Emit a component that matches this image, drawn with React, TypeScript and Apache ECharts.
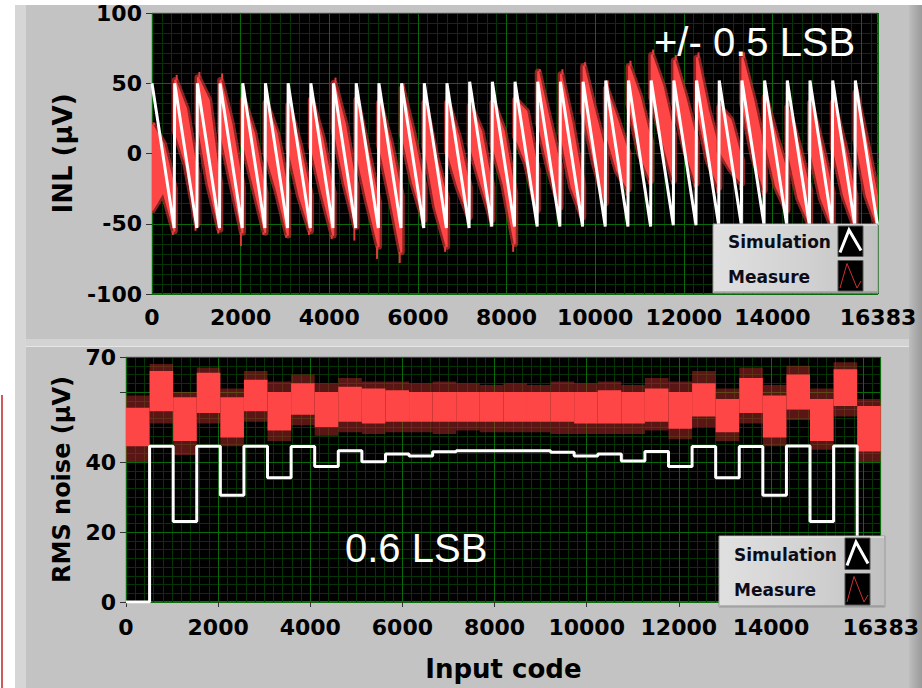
import React, { useEffect, useRef } from 'react';
import * as echarts from 'echarts';

// ---------------- data ----------------
const X_MAX = 16383;
const xMajorStep = 2000;

// start code of each 512-code segment
const periodStart = [0, 512, 1024, 1536, 2048, 2560, 3072, 3584, 4096, 4608, 5120, 5632, 6144, 6656, 7168, 7680,
  8192, 8704, 9216, 9728, 10240, 10752, 11264, 11776, 12288, 12800, 13312, 13824, 14336, 14848, 15360, 15872];

// ---- INL simulation (white sawtooth) ----
const simPeak = [50, 50, 50, 50, 50, 50, 50, 50, 50, 50, 50, 50, 50, 50, 51, 51,
  51, 51, 51, 51, 52, 52, 52, 52, 52, 52, 52, 52, 52, 52, 52, 52];
const simTroughCode = [500, 1012, 1524, 2036, 2548, 3060, 3572, 4084, 4596, 5108, 5620, 6132, 6644, 7156, 7668, 8180,
  8692, 9204, 9716, 10228, 10740, 11252, 11764, 12276, 12788, 13300, 13812, 14324, 14836, 15348, 15860, 16372];
const simTrough = [-53, -53, -53, -53, -53, -53, -53, -53, -53, -53, -53, -53, -53, -53, -52, -52,
  -52, -52, -52, -52, -52, -52, -51, -51, -51, -51, -51, -51, -51, -51, -51, -51];

// ---- INL measurement (red noisy band), per segment: start / middle / end envelopes ----
const measHiS = [20, 52, 54, 52, 38, 36, 34, 38, 50, 38, 36, 46, 36, 36, 34, 36, 38, 58, 56, 62, 46, 62, 70, 66, 68, 33, 68, 40, 33, 36, 36, 43];
const measLoS = [-40, 16, 22, 16, 8, 0, 4, 5, 18, 0, 6, 14, 5, 2, 6, 6, 12, 22, 14, 30, 14, 35, 40, 36, 32, 2, 36, 10, 3, 3, 5, 10];
const measHiM = [7, 32, 38, 21, 14, 14, 6, 11, 21, 2, 8, 14, -2, 12, 16, 16, 30, 24, 21, 30, 24, 40, 48, 40, 31, 24, 38, 12, 5, 6, 6, 7];
const measLoM = [-27, -8, -22, -20, -24, -26, -30, -28, -21, -34, -30, -21, -38, -24, -21, -22, -7, -11, -24, -7, -12, 0, 10, 3, -4, -11, -2, -23, -32, -32, -30, -30];
const measHiE = [-25, -15, -22, -24, -28, -28, -30, -28, -24, -35, -30, -24, -32, -24, -24, -28, -12, -10, -23, 0, 0, 8, 14, 9, 2, -5, 2, -14, -26, -28, -30, -33];
const measLoE = [-55, -50, -54, -56, -56, -58, -55, -58, -52, -66, -70, -47, -66, -45, -47, -64, -40, -38, -45, -35, -25, -19, -19, -21, -24, -21, -26, -40, -50, -52, -52, -52];
const measSpikeHi = [22, 56, 58, 57, 42, 40, 38, 42, 54, 42, 40, 50, 40, 40, 38, 40, 43, 60, 60, 65, 52, 66, 74, 70, 72, 36, 72, 44, 36, 40, 38, 46];
const measSpikeLo = [-58, -55, -57, -66, -58, -60, -58, -61, -62, -75, -78, -52, -70, -50, -52, -70, -45, -42, -48, -38, -30, -22, -22, -24, -28, -26, -30, -44, -52, -55, -55, -55];
// positions (codes inside a segment) of the envelope samples and of the spikes
const bandOffsets = [12, 256, 505];
const spikeOffsets = [45, 470];

// ---- RMS noise simulation (white steps) ----
const simRms = [0, 44.5, 23, 44.5, 30.5, 44.5, 35.5, 44.4, 38.7, 43.2, 40.1, 42.3, 41.7, 42.9, 43.2, 43.2,
  43.2, 43.2, 42.8, 41.7, 42.3, 40.3, 43, 38.7, 44.4, 35.5, 44.4, 30.5, 44.6, 23, 44.6, 0];

// ---- RMS noise measurement (red band) ----
const measRmsHi = [55.5, 66, 58.5, 65.5, 58.5, 63.5, 60, 62.5, 60, 61.5, 61, 60.5, 60, 60, 60, 60,
  60, 60, 60, 60, 60.5, 60, 61, 60, 62.5, 58, 64, 59, 65, 58, 66.5, 56];
const measRmsLo = [44.5, 54.5, 46, 54, 47, 54.5, 49, 53.5, 50, 51.5, 51, 51.5, 51.5, 51.5, 51.5, 51.5,
  51.5, 51.5, 51.5, 51, 51, 51, 51.5, 49.5, 53, 48.5, 54, 47, 55, 46, 56, 43];
const measRmsSpikeHi = [59, 68, 60, 67, 61, 66, 63, 65, 62.5, 64, 63, 63, 62.5, 63, 62.5, 62,
  62.5, 62, 63, 62.5, 63, 62, 64, 63, 66, 61, 67, 62, 67.5, 61, 68.5, 58];
const measRmsSpikeLo = [40, 51, 42, 51, 44.5, 51.5, 46, 50.5, 47.5, 48.5, 48, 48.5, 48.5, 48, 49, 48.5,
  48.5, 48.5, 48, 48, 48, 48, 49, 46.5, 50, 46, 51, 44.5, 52, 43.5, 53, 40];

const inlTicks = { min: -100, max: 100, step: 50 };
const rmsTicks = { min: 0, max: 70, step: 20 };
const legendNames = ['Simulation', 'Measure'];

// ---------------- styles ----------------
const LABEL_FONT = 'DejaVu Sans';
const MAJOR_GREEN = '#086a08';
const MINOR_GREEN = '#053405';
const RED = '#ff4646';

function majorX(gridIndex: number, extra: any = {}) {
  return {
    type: 'value', gridIndex, min: 0, max: X_MAX, interval: xMajorStep, z: 3,
    axisLine: { show: false },
    axisTick: { show: true, length: 5, lineStyle: { color: '#333', width: 1 } },
    axisLabel: {
      margin: 12, color: '#000', fontFamily: LABEL_FONT, fontWeight: 'bold', fontSize: 22,
      formatter: (v: number) => (v === 16000 ? '' : String(v)),
    },
    splitLine: { show: true, lineStyle: { color: MAJOR_GREEN, width: 1 } },
    ...extra,
  };
}
function minorAxis(type: 'x' | 'y', gridIndex: number, min: number, max: number, interval: number) {
  return {
    type: 'value', gridIndex, min, max, interval, z: 1,
    position: type === 'x' ? 'bottom' : 'left',
    axisLine: { show: false }, axisTick: { show: false }, axisLabel: { show: false },
    splitLine: { show: true, lineStyle: { color: MINOR_GREEN, width: 1 } },
  };
}
function majorY(gridIndex: number, t: { min: number; max: number; step: number }, extra: any = {}) {
  return {
    type: 'value', gridIndex, min: t.min, max: t.max, interval: t.step, z: 3,
    axisLine: { show: false },
    axisTick: { show: true, length: 6, lineStyle: { color: '#333', width: 1 } },
    axisLabel: { margin: 10, color: '#000', fontFamily: LABEL_FONT, fontWeight: 'bold', fontSize: 22 },
    splitLine: { show: true, lineStyle: { color: MAJOR_GREEN, width: 1 } },
    nameLocation: 'middle', nameRotate: 90,
    nameTextStyle: { color: '#000', fontFamily: LABEL_FONT, fontWeight: 'bold' },
    ...extra,
  };
}

function legendGroup(x: number, y: number, w: number, h: number, iconX: number, iconW: number) {
  const half = h / 2;
  const Z = 100;
  return {
    type: 'group', x, y, z: Z,
    children: [
      {
        type: 'rect', z: Z, shape: { x: 0, y: 0, width: w, height: h },
        style: {
          fill: new echarts.graphic.LinearGradient(0, 0, 1, 0, [
            { offset: 0, color: '#e0e0e0' }, { offset: 0.6, color: '#d0d0d0' }, { offset: 1, color: '#c0c0c0' },
          ]),
          stroke: '#9a9a9a', lineWidth: 1,
        },
      },
      { type: 'line', z: Z, shape: { x1: 1, y1: 1, x2: w - 1, y2: 1 }, style: { stroke: '#f0f0f0', lineWidth: 1 } },
      { type: 'line', z: Z, shape: { x1: 1, y1: h - 1, x2: w - 1, y2: h - 1 }, style: { stroke: '#8a8a8a', lineWidth: 1 } },
      {
        type: 'text', z: Z + 1, style: {
          x: 15, y: half / 2 + 1, text: legendNames[0], fill: '#0c0c18', font: `bold 17px ${LABEL_FONT}`,
          textAlign: 'left', textVerticalAlign: 'middle', verticalAlign: 'middle',
        },
      },
      {
        type: 'text', z: Z + 1, style: {
          x: 15, y: half + half / 2 + 1, text: legendNames[1], fill: '#0c0c18', font: `bold 17px ${LABEL_FONT}`,
          textAlign: 'left', textVerticalAlign: 'middle', verticalAlign: 'middle',
        },
      },
      { type: 'rect', z: Z + 1, shape: { x: iconX, y: 2, width: iconW, height: half - 4 }, style: { fill: '#000', stroke: '#555', lineWidth: 1 } },
      { type: 'rect', z: Z + 1, shape: { x: iconX, y: half + 2, width: iconW, height: half - 4 }, style: { fill: '#000', stroke: '#555', lineWidth: 1 } },
      {
        type: 'polyline', z: Z + 2,
        shape: { points: [[iconX + 2, half - 6], [iconX + 11, 6], [iconX + iconW - 2, half - 8]] },
        style: { stroke: '#fff', lineWidth: 3, fill: 'none' },
      },
      {
        type: 'polyline', z: Z + 2,
        shape: { points: [[iconX + 2, h - 5], [iconX + 9, half + 5], [iconX + 19, h - 5], [iconX + iconW - 2, h - 12]] },
        style: { stroke: '#d23030', lineWidth: 1, fill: 'none' },
      },
    ],
  };
}

function buildOption() {
  const simInlData: number[][] = [];
  periodStart.forEach((s, i) => {
    simInlData.push([s, simPeak[i]]);
    simInlData.push([simTroughCode[i], simTrough[i]]);
  });

  const inlBandData = periodStart.map((s, i) => [s, measHiS[i], measLoS[i], measHiM[i], measLoM[i], measHiE[i], measLoE[i]]);
  const inlSpikeData: number[][] = [];
  periodStart.forEach((s, i) => {
    inlSpikeData.push([s + spikeOffsets[0], measHiS[i], measSpikeHi[i]]);
    inlSpikeData.push([s + spikeOffsets[1], measLoE[i], measSpikeLo[i]]);
  });

  const simRmsData = periodStart.map((s, i) => [s, simRms[i]]);
  simRmsData.push([X_MAX, simRms[simRms.length - 1]]);

  const rmsBandData = periodStart.map((s, i) => [
    s, i + 1 < periodStart.length ? periodStart[i + 1] : X_MAX,
    measRmsLo[i], measRmsHi[i], measRmsSpikeLo[i], measRmsSpikeHi[i],
  ]);

  const bg = (shape: any, fill: any, z = -20) => ({ type: 'rect', shape, style: { fill }, z, silent: true });

  return {
    animation: false,
    backgroundColor: '#ffffff',
    grid: [
      { left: 152, top: 13, width: 726, height: 281, show: true, backgroundColor: '#000', borderColor: '#8c8c8c', borderWidth: 1 },
      { left: 126, top: 357, width: 759, height: 245, show: true, backgroundColor: '#000', borderColor: '#8c8c8c', borderWidth: 1 },
    ],
    xAxis: [
      majorX(0),
      minorAxis('x', 0, 0, X_MAX, xMajorStep / 9),
      majorX(1, {
        name: 'Input code', nameLocation: 'middle', nameGap: 54,
        nameTextStyle: { color: '#000', fontFamily: LABEL_FONT, fontWeight: 'bold', fontSize: 26 },
        axisLabel: {
          margin: 14, color: '#000', fontFamily: LABEL_FONT, fontWeight: 'bold', fontSize: 22,
          formatter: (v: number) => (v === 16000 ? '' : String(v)),
        },
      }),
      minorAxis('x', 1, 0, X_MAX, xMajorStep / 10),
    ],
    yAxis: [
      majorY(0, inlTicks, { name: 'INL (µV)', nameGap: 76, nameTextStyle: { color: '#000', fontFamily: LABEL_FONT, fontWeight: 'bold', fontSize: 26 } }),
      minorAxis('y', 0, inlTicks.min, inlTicks.max, inlTicks.step / 7),
      majorY(1, rmsTicks, {
        name: 'RMS noise (µV)', nameGap: 50,
        nameTextStyle: { color: '#000', fontFamily: LABEL_FONT, fontWeight: 'bold', fontSize: 24 },
        axisLabel: {
          margin: 10, color: '#000', fontFamily: LABEL_FONT, fontWeight: 'bold', fontSize: 22,
          formatter: (v: number) => (v === 60 ? '' : String(v)),
        },
      }),
      minorAxis('y', 1, rmsTicks.min, rmsTicks.max, 2.5),
    ],
    series: [
      {
        name: 'Measure INL', type: 'custom', xAxisIndex: 0, yAxisIndex: 0, z: 5, clip: true,
        data: inlBandData,
        renderItem: (_p: any, api: any) => {
          const s = api.value(0);
          const pts = [
            api.coord([s + bandOffsets[0], api.value(1)]),
            api.coord([s + bandOffsets[1], api.value(3)]),
            api.coord([s + bandOffsets[2], api.value(5)]),
            api.coord([s + bandOffsets[2], api.value(6)]),
            api.coord([s + bandOffsets[1], api.value(4)]),
            api.coord([s + bandOffsets[0], api.value(2)]),
          ];
          return {
            type: 'group',
            children: [
              { type: 'polygon', shape: { points: pts }, style: { fill: 'none', stroke: 'rgba(190,45,45,0.75)', lineWidth: 7, lineJoin: 'round' } },
              { type: 'polygon', shape: { points: pts }, style: { fill: RED, stroke: RED, lineWidth: 2, lineJoin: 'round' } },
            ],
          };
        },
      },
      {
        name: 'Measure INL spikes', type: 'custom', xAxisIndex: 0, yAxisIndex: 0, z: 5, clip: true,
        data: inlSpikeData,
        renderItem: (_p: any, api: any) => {
          const a = api.coord([api.value(0), api.value(1)]);
          const b = api.coord([api.value(0), api.value(2)]);
          return { type: 'line', shape: { x1: a[0], y1: a[1], x2: b[0], y2: b[1] }, style: { stroke: '#e23b3b', lineWidth: 2 } };
        },
      },
      {
        name: 'Simulation INL', type: 'line', xAxisIndex: 0, yAxisIndex: 0, z: 6,
        data: simInlData, symbol: 'none', lineStyle: { color: '#ffffff', width: 3 },
      },
      {
        name: 'Measure RMS', type: 'custom', xAxisIndex: 2, yAxisIndex: 2, z: 5, clip: true,
        data: rmsBandData,
        renderItem: (_p: any, api: any) => {
          const s = api.value(0), e = api.value(1);
          const h1 = api.coord([s, api.value(5)]);
          const h2 = api.coord([e, api.value(4)]);
          const b1 = api.coord([s, api.value(3)]);
          const b2 = api.coord([e, api.value(2)]);
          return {
            type: 'group',
            children: [
              { type: 'rect', shape: { x: h1[0], y: h1[1], width: h2[0] - h1[0], height: h2[1] - h1[1] }, style: { fill: 'rgba(180,42,42,0.5)' } },
              { type: 'rect', shape: { x: b1[0], y: b1[1], width: b2[0] - b1[0], height: b2[1] - b1[1] }, style: { fill: RED } },
            ],
          };
        },
      },
      {
        name: 'Simulation RMS', type: 'line', xAxisIndex: 2, yAxisIndex: 2, z: 6, step: 'end',
        data: simRmsData, symbol: 'none', lineStyle: { color: '#ffffff', width: 3 },
      },
    ],
    graphic: {
      elements: [
        // page / panel backgrounds
        bg({ x: 15, y: 5, width: 907, height: 336 }, '#c3c3c3'),
        bg({ x: 15, y: 347, width: 907, height: 341 }, '#c3c3c3'),
        bg({ x: 15, y: 339, width: 907, height: 8 }, '#d3d3d3', -19),
        bg({ x: 15, y: 346, width: 907, height: 1 }, '#e6e6e6', -19),
        bg({ x: 15, y: 5, width: 11, height: 683 }, '#d6d6d6', -19),
        bg({ x: 909, y: 5, width: 13, height: 683 }, new echarts.graphic.LinearGradient(0, 0, 1, 0, [
          { offset: 0, color: '#bdbdbd' }, { offset: 1, color: '#9a9a9a' },
        ]), -19),
        bg({ x: 1, y: 395, width: 2, height: 293 }, '#cc5a5a', -19),
        // annotations
        {
          type: 'text', z: 100,
          style: { x: 654, y: 42, text: '+/- 0.5 LSB', fill: '#fff', font: '40px Liberation Sans', textAlign: 'left', textVerticalAlign: 'middle', verticalAlign: 'middle' },
        },
        {
          type: 'text', z: 100,
          style: { x: 345, y: 548, text: '0.6 LSB', fill: '#fff', font: '40px Liberation Sans', textAlign: 'left', textVerticalAlign: 'middle', verticalAlign: 'middle' },
        },
        legendGroup(713, 224, 165, 69, 125, 25),
        legendGroup(719, 536, 166, 71, 126, 25),
      ],
    },
  };
}

export default function App() {
  const ref = useRef<HTMLDivElement>(null);
  useEffect(() => {
    document.body.style.margin = '0';
    const chart = echarts.init(ref.current as HTMLDivElement, null, { renderer: 'svg' });
    chart.setOption(buildOption() as any);
    return () => chart.dispose();
  }, []);
  return <div ref={ref} style={{ width: 922, height: 688 }} />;
}
